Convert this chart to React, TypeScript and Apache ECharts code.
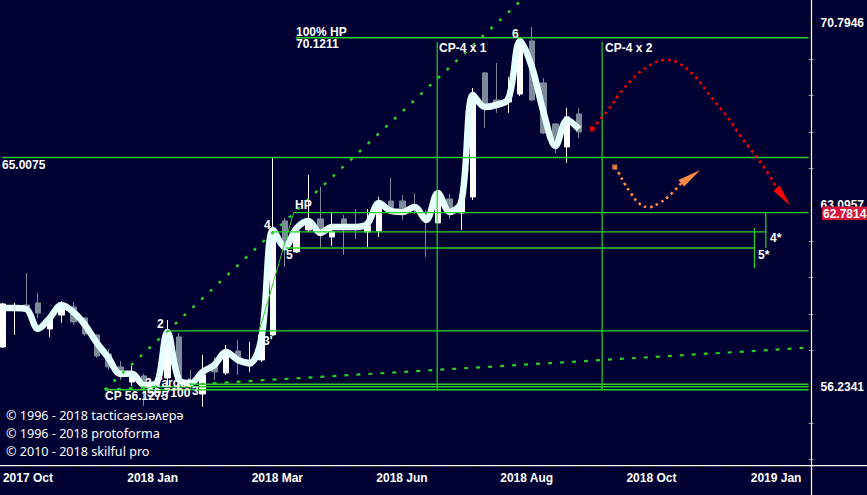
import React, { useEffect, useRef } from 'react';
import * as echarts from 'echarts';

// ---- weekly candles (index 0..49) ----
const opens = [
  57.666, 59.069, 59.22, 59.295, 58.328, 58.844, 59.144, 58.733, 58.107, 57.411,
  56.943, 56.403, 56.619, 56.259, 56.547, 58.034, 56.439, 55.977, 56.979, 56.727,
  57.519, 56.979, 57.195, 58.107, 62.453, 61.24, 62.097, 62.532, 61.822, 62.532,
  62.256, 62.019, 62.058, 63.245, 63.245, 63.084, 62.729, 62.374, 63.326, 62.769,
  63.407, 68.581, 67.418, 67.333, 67.673, 69.985, 68.149, 66.403, 65.445, 66.826,
];
const closes = [
  59.257, 59.182, 59.031, 58.918, 58.77, 59.106, 58.586, 58.144, 57.339, 56.943,
  56.655, 56.763, 56.259, 56.403, 58.218, 56.475, 56.295, 56.655, 56.763, 57.447,
  57.123, 57.123, 58.107, 62.019, 61.317, 62.058, 62.492, 62.097, 62.019, 62.295,
  62.177, 62.256, 63.205, 62.966, 62.966, 62.887, 62.571, 63.568, 62.847, 63.286,
  67.63, 67.122, 67.249, 67.545, 69.94, 67.418, 66.024, 65.734, 66.699, 66.065,
];
const lows = [
  57.629, 58.107, 58.956, 58.733, 58.034, 58.549, 58.475, 58.071, 57.267, 56.835,
  56.475, 56.259, 55.555, 56.048, 56.295, 56.331, 56.118, 55.52, 56.475, 56.655,
  56.655, 56.763, 57.123, 58.071, 60.661, 61.201, 62.019, 61.394, 61.471, 61.124,
  61.743, 61.432, 61.822, 62.769, 62.492, 62.729, 61.047, 62.335, 62.532, 62.097,
  63.286, 66.234, 66.868, 66.868, 67.587, 67.375, 65.982, 65.197, 64.784, 65.817,
];
const highs = [
  59.295, 59.295, 60.43, 59.672, 58.807, 59.37, 59.333, 58.77, 58.144, 57.592,
  57.159, 56.979, 56.691, 56.547, 58.659, 58.181, 56.835, 57.375, 57.303, 57.739,
  57.923, 57.85, 58.144, 65.032, 62.571, 62.097, 64.295, 63.81, 62.769, 62.69,
  62.926, 62.926, 63.407, 64.174, 63.487, 63.568, 62.887, 63.608, 63.528, 63.326,
  67.933, 68.625, 69.014, 68.408, 70.029, 70.605, 68.365, 66.445, 67.08, 67.08,
];
// thick smoothed line
const smoothLine = [
  59.106, 59.106, 59.069, 58.328, 58.733, 59.22, 58.956, 58.475, 57.813, 57.267,
  56.691, 56.7, 56.295, 56.331, 58.218, 56.475, 56.367, 56.763, 57.015, 57.483,
  57.195, 57.087, 57.997, 62.097, 61.432, 62.177, 62.453, 61.98, 62.216, 62.216,
  62.216, 62.335, 63.164, 62.847, 62.808, 63.005, 62.492, 63.568, 62.808, 63.205,
  67.63, 67.122, 67.207, 67.46, 69.985, 68.833, 66.868, 65.486, 66.572, 66.191,
];

// ---- axes ----
const X_MIN = -0.028;
const X_MAX = 68.527;
const Y_MIN_LOG = 1.7283;
const Y_MAX_LOG = 1.85624;
const xLabelText = ['2017 Oct', '2018 Jan', '2018 Mar', '2018 Jun', '2018 Aug', '2018 Oct', '2019 Jan'];
const xLabelPos = [2.143, 12.746, 23.349, 33.952, 44.555, 55.158, 65.761];
const xTickStep = 2.1206;
const yLabelLogs = [1.75, 1.8, 1.85];
const yMinorLogs = [1.73, 1.74, 1.75, 1.76, 1.77, 1.78, 1.79, 1.8, 1.81, 1.82, 1.83, 1.84, 1.85];

// ---- annotations (index, price) ----
const levelPrices = [70.1211, 65.0075, 62.7814, 62.02, 61.39, 58.255, 56.321, 56.234, 56.1275];
const levelFrom = [24.91, X_MIN, 24.74, 22.88, 24.06, 14.0, 15.78, 12.06, 8.68];
const levelTo = [X_MAX, X_MAX, X_MAX, 64.89, 63.92, X_MAX, X_MAX, X_MAX, X_MAX];
const vLineX = [36.94, 50.97, 64.89, 63.92];
const vLineFrom = [56.1275, 56.1275, 61.39, 60.62];
const vLineTo = [69.94, 69.94, 62.7814, 62.18];
const diagX = [21.78, 24.74];
const diagP = [58.218, 62.7814];
const steepX = [8.68, 44.5];
const steepP = [56.1275, 72.01];
const shallowX = [8.68, X_MAX];
const shallowP = [56.1275, 57.64];
const redX = [50.12, 50.83, 51.54, 52.38, 53.48, 54.92, 56.35, 57.45, 58.89, 60.24, 61.68, 62.78, 63.96, 65.06, 65.8];
const redP = [66.192, 66.602, 67.037, 67.63, 68.279, 68.884, 69.144, 69.014, 68.408, 67.545, 66.657, 65.858, 65.12, 64.375, 63.77];
const orangeX = [52.04, 52.38, 52.89, 53.4, 54.07, 54.92, 55.76, 56.61, 57.69];
const orangeP = [64.619, 64.375, 63.931, 63.568, 63.164, 62.993, 63.144, 63.427, 63.959];
// arrow heads: tip, base1, base2
const arrowX = [[66.98, 65.54, 66.05], [59.31, 57.45, 57.94]];
const arrowP = [[63.057, 63.649, 63.879], [64.496, 64.093, 63.822]];
const arrowColors = ['#ff0000', '#ff8a45'];

const BG = '#000032';
const GREEN = '#2ad02a';
const BOLD = "bold 12px 'Liberation Sans', Arial, sans-serif";

export default function App() {
  const ref = useRef<HTMLDivElement>(null);
  useEffect(() => {
    document.body.style.margin = '0';
    const chart = echarts.init(ref.current!, null, { renderer: 'svg' });
    const L = Math.log10;

    const candleData = opens.map((o, i) => [i, L(o), L(closes[i]), L(lows[i]), L(highs[i])]);
    const lineData = smoothLine.map((p, i) => [i, L(p)]);

    const seg = (pts: number[][], color: string, width: number, type: any = 'solid', smooth: any = false) => ({
      type: 'line',
      data: pts.map(([x, p]) => [x, L(p)]),
      symbol: 'none',
      smooth,
      silent: true,
      z: 5,
      lineStyle: { color, width, type },
    });

    const series: any[] = [
      {
        type: 'candlestick',
        data: candleData,
        barWidth: 6,
        z: 2,
        itemStyle: {
          color: '#ffffff',
          color0: '#7c8a99',
          borderColor: '#ffffff',
          borderColor0: '#7c8a99',
          borderWidth: 1,
        },
      },
      {
        type: 'line',
        data: lineData,
        symbol: 'none',
        smooth: 0.35,
        z: 3,
        lineStyle: { color: '#e6ffff', width: 6.5 },
      },
    ];
    levelPrices.forEach((p, i) => series.push(seg([[levelFrom[i], p], [levelTo[i], p]], GREEN, 1.4)));
    vLineX.forEach((x, i) => series.push(seg([[x, vLineFrom[i]], [x, vLineTo[i]]], GREEN, 1.2)));
    series.push(seg([[diagX[0], diagP[0]], [diagX[1], diagP[1]]], GREEN, 1));
    series.push(seg(steepX.map((x, i) => [x, steepP[i]]), GREEN, 2.5, [3, 9]));
    series.push(seg(shallowX.map((x, i) => [x, shallowP[i]]), GREEN, 2.2, [4, 8]));
    series.push(seg(redX.map((x, i) => [x, redP[i]]), '#ff0000', 2.6, [2.6, 4], 0.4));
    series.push(seg(orangeX.map((x, i) => [x, orangeP[i]]), '#ff8a45', 2.6, [2.6, 3.6], 0.4));
    series.push({
      type: 'scatter',
      symbol: 'rect',
      symbolSize: 5,
      z: 6,
      silent: true,
      data: [
        { value: [redX[0], L(redP[0])], itemStyle: { color: '#ff0000' } },
        { value: [orangeX[0], L(orangeP[0])], itemStyle: { color: '#ff8a45' } },
      ],
    });
    series.push({
      type: 'custom',
      z: 6,
      silent: true,
      clip: false,
      data: arrowX.map((xs, i) => [xs[0], L(arrowP[i][0]), xs[1], L(arrowP[i][1]), xs[2], L(arrowP[i][2])]),
      encode: { x: [0, 2, 4], y: [1, 3, 5] },
      renderItem: (params: any, api: any) => {
        const a = api.coord([api.value(0), api.value(1)]);
        const b = api.coord([api.value(2), api.value(3)]);
        const c = api.coord([api.value(4), api.value(5)]);
        return {
          type: 'polygon',
          shape: { points: [a, b, c] },
          style: { fill: arrowColors[params.dataIndex] },
        };
      },
    });

    const txt = (text: string, x: number, y: number, font = BOLD, fill = '#ffffff') => ({
      type: 'text',
      x,
      y,
      z: 100,
      silent: true,
      style: { text, fill, font, align: 'left', verticalAlign: 'middle' },
    });

    const xTicks: number[] = [];
    for (let k = 1; k <= 32; k++) xTicks.push(0.0228 + xTickStep * k);

    const COPY = "12.6px 'Noto Sans', 'DejaVu Sans', sans-serif";

    chart.setOption({
      animation: false,
      backgroundColor: BG,
      grid: { left: 0, top: 0, right: 56, bottom: 29.3, containLabel: false },
      xAxis: {
        type: 'value',
        min: X_MIN,
        max: X_MAX,
        axisLine: { show: false, onZero: false },
        splitLine: { show: false },
        axisTick: { show: true, customValues: xTicks, length: 3, lineStyle: { color: '#000000', width: 2 } },
        axisLabel: {
          show: true,
          customValues: xLabelPos,
          margin: 6,
          color: '#ffffff',
          fontFamily: "'Liberation Sans', Arial, sans-serif",
          fontWeight: 'bold',
          fontSize: 12,
          formatter: (v: number) => {
            let best = 0;
            xLabelPos.forEach((p, i) => {
              if (Math.abs(p - v) < Math.abs(xLabelPos[best] - v)) best = i;
            });
            return xLabelText[best];
          },
        },
      },
      yAxis: [
        {
          type: 'value',
          position: 'right',
          min: Y_MIN_LOG,
          max: Y_MAX_LOG,
          axisLine: { show: false, onZero: false },
          splitLine: { show: false },
          axisTick: { show: true, customValues: yMinorLogs, length: 5, lineStyle: { color: '#8c8c8c', width: 1 } },
          axisLabel: { show: false },
        },
        {
          type: 'value',
          position: 'right',
          min: Y_MIN_LOG,
          max: Y_MAX_LOG,
          axisLine: { show: false, onZero: false },
          splitLine: { show: false },
          axisTick: { show: true, customValues: yLabelLogs, length: 9, lineStyle: { color: '#000000', width: 2 } },
          axisLabel: {
            show: true,
            customValues: yLabelLogs,
            margin: 12,
            color: '#ffffff',
            fontFamily: "'Liberation Sans', Arial, sans-serif",
            fontWeight: 'bold',
            fontSize: 12,
            formatter: (v: number) => Math.pow(10, v).toFixed(4),
          },
        },
      ],
      series,
      graphic: [
        { type: 'line', z: 50, silent: true, shape: { x1: 811.5, y1: 0, x2: 811.5, y2: 495 }, style: { stroke: '#ffffff', lineWidth: 1.2 } },
        { type: 'line', z: 50, silent: true, shape: { x1: 0, y1: 465.7, x2: 867, y2: 465.7 }, style: { stroke: '#ffffff', lineWidth: 1.2 } },
        { type: 'rect', z: 99, silent: true, shape: { x: 822, y: 206.5, width: 46, height: 13.5 }, style: { fill: '#d2173b' } },
        txt('62.7814', 823, 213.5),
        txt('100% HP', 296, 31.5),
        txt('70.1211', 296, 43.5),
        txt('65.0075', 2, 164.7),
        txt('CP-4 x 1', 439, 48),
        txt('CP-4 x 2', 605, 48),
        txt('6', 512, 33.5),
        txt('HP', 295, 205),
        txt('4', 264, 224.5),
        txt('5', 286, 255),
        txt('2', 157, 323.5),
        txt("3'", 263, 341),
        txt('3', 192, 391),
        txt('2 Target', 145, 382.5),
        txt('56.7100', 147, 392.5),
        txt('CP 56.1275', 105, 395.5),
        txt('4*', 770, 237.5),
        txt('5*', 758, 254.5),
        txt('© 1996 - 2018 tacticaesɹǝʌɐpǝ', 6, 415, COPY),
        txt('© 1996 - 2018 protoforma', 6, 433, COPY),
        txt('© 2010 - 2018 skilful pro', 6, 451, COPY),
      ],
    });
    return () => chart.dispose();
  }, []);
  return (
    <div
      ref={ref}
      style={{ position: 'fixed', left: 0, top: 0, width: 867, height: 495, background: BG }}
    />
  );
}
